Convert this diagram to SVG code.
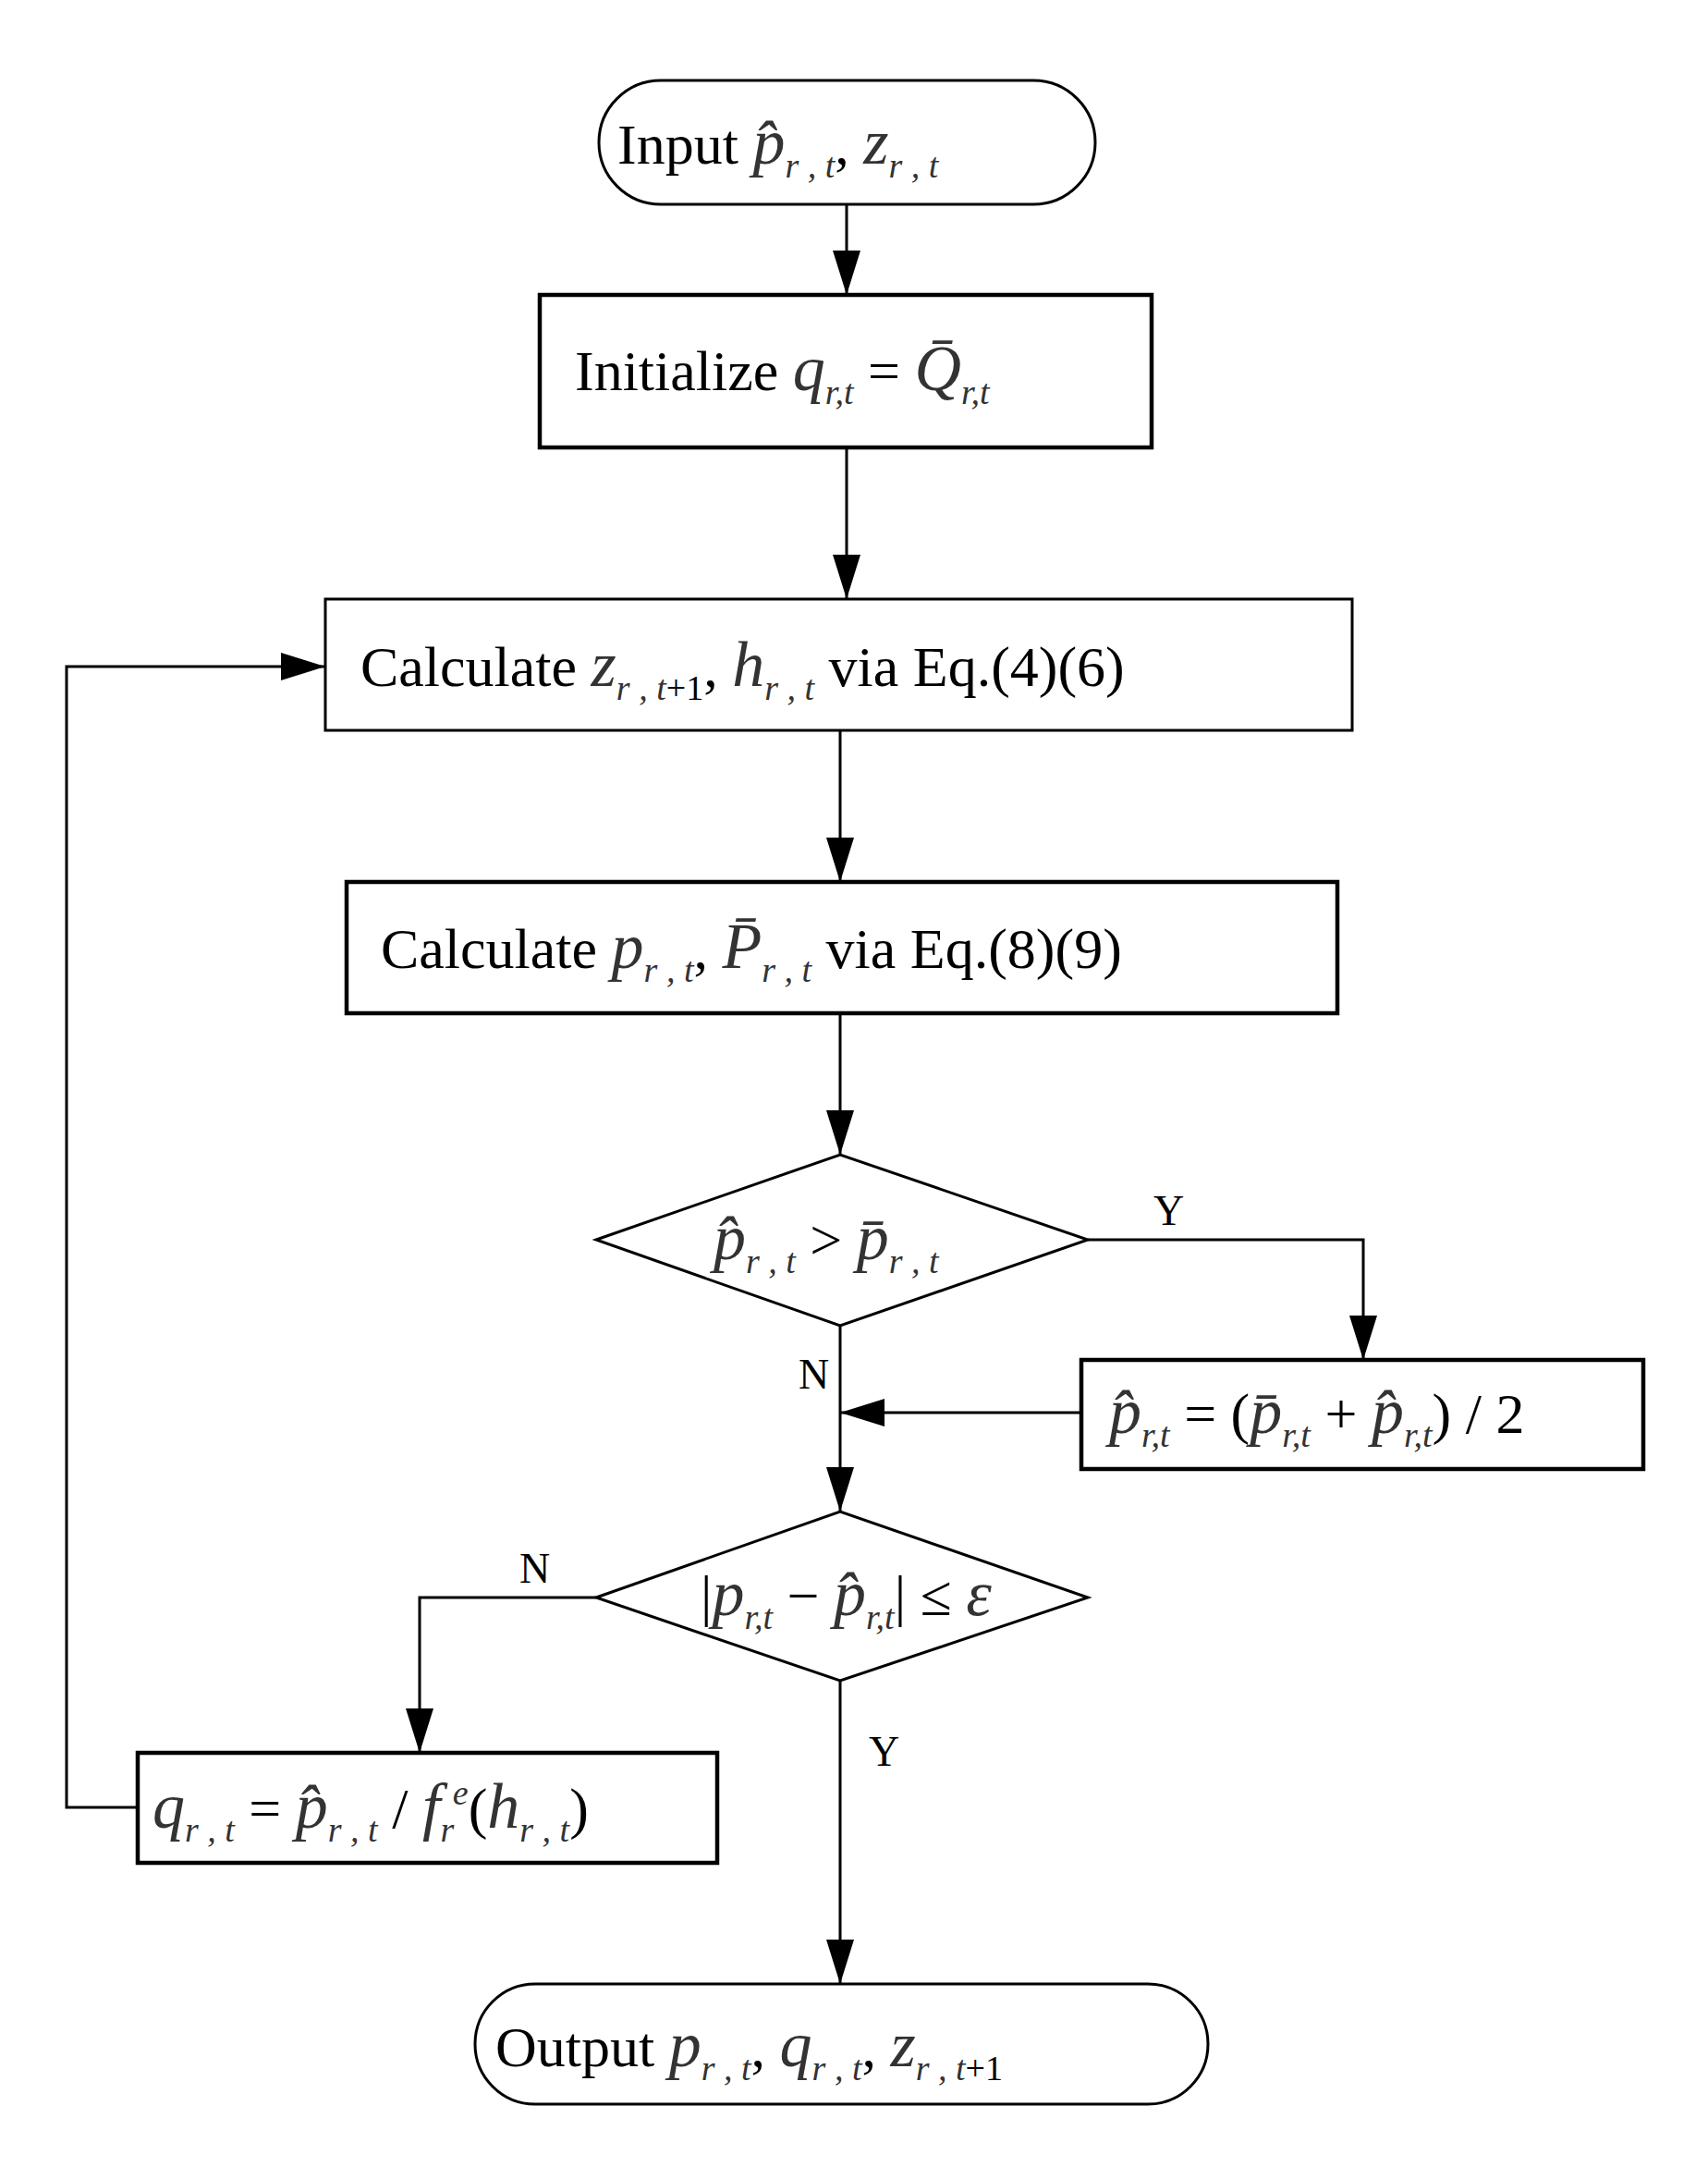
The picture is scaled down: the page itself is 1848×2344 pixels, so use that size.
<svg xmlns="http://www.w3.org/2000/svg" width="1848" height="2344" viewBox="0 0 1848 2344">
<style>
.n{fill:#fff;stroke:#000;stroke-width:3}
.k{fill:#fff;stroke:#000;stroke-width:4.5}
.c{fill:none;stroke:#000;stroke-width:3}
text{font-family:"Liberation Serif",serif;font-size:62px;fill:#000}
.m{font-style:italic;fill:#333;font-size:70px}
.s{font-size:38px}
.l{font-size:46px}
</style>
<defs>
<marker id="b" viewBox="0 0 48 30" markerWidth="48" markerHeight="30" refX="48" refY="15" orient="auto" markerUnits="userSpaceOnUse"><path d="M0,0L48,15L0,30z"/></marker></defs>
<g id="connectors">
<path class="c" d="M916,221V319" marker-end="url(#b)"/>
<path class="c" d="M916,484V648" marker-end="url(#b)"/>
<path class="c" d="M909,790V954" marker-end="url(#b)"/>
<path class="c" d="M909,1096V1249" marker-end="url(#b)"/>
<path class="c" d="M1177,1341H1475V1471" marker-end="url(#b)"/>
<path class="c" d="M1170,1528H909" marker-end="url(#b)"/>
<path class="c" d="M909,1434V1635" marker-end="url(#b)"/>
<path class="c" d="M645,1728H454V1896" marker-end="url(#b)"/>
<path class="c" d="M149,1955H72V721H352" marker-end="url(#b)"/>
<path class="c" d="M909,1818V2146" marker-end="url(#b)"/>
<text class="l" x="1248" y="1325">Y</text>
<text class="l" x="864" y="1502">N</text>
<text class="l" x="562" y="1712">N</text>
<text class="l" x="940" y="1910">Y</text>
</g>
<g id="input"><rect class="n" x="648" y="87" width="537" height="134" rx="67"/>
<text x="668" y="177">Input <tspan class="m">p̂</tspan><tspan class="m s" dy="15">r , t</tspan><tspan dy="-15">, </tspan><tspan class="m">z</tspan><tspan class="m s" dy="15">r , t</tspan></text></g>
<g id="init"><rect class="k" x="584" y="319" width="662" height="165"/>
<text x="622" y="422">Initialize <tspan class="m">q</tspan><tspan class="m s" dy="15">r,t</tspan><tspan dy="-15"> = </tspan><tspan class="m">Q̄</tspan><tspan class="m s" dy="15">r,t</tspan></text></g>
<g id="calc1"><rect class="n" x="352" y="648" width="1111" height="142"/>
<text x="390" y="742">Calculate <tspan class="m">z</tspan><tspan class="m s" dy="15">r , t</tspan><tspan class="s">+1</tspan><tspan dy="-15">, </tspan><tspan class="m">h</tspan><tspan class="m s" dy="15">r , t</tspan><tspan dy="-15">  via Eq.(4)(6)</tspan></text></g>
<g id="calc2"><rect class="k" x="375" y="954" width="1072" height="142"/>
<text x="412" y="1047">Calculate <tspan class="m">p</tspan><tspan class="m s" dy="15">r , t</tspan><tspan dy="-15">, </tspan><tspan class="m">P̄</tspan><tspan class="m s" dy="15">r , t</tspan><tspan dy="-15"> via Eq.(8)(9)</tspan></text></g>
<g id="dec1"><path class="n" d="M645,1341L909,1249L1177,1341L909,1434Z"/>
<text x="772" y="1362"><tspan class="m">p̂</tspan><tspan class="m s" dy="15">r , t</tspan><tspan dy="-15"> &gt; </tspan><tspan class="m">p̄</tspan><tspan class="m s" dy="15">r , t</tspan></text></g>
<g id="update"><rect class="k" x="1170" y="1471" width="608" height="118"/>
<text x="1200" y="1550"><tspan class="m">p̂</tspan><tspan class="m s" dy="15">r,t</tspan><tspan dy="-15"> = (</tspan><tspan class="m">p̄</tspan><tspan class="m s" dy="15">r,t</tspan><tspan dy="-15"> + </tspan><tspan class="m">p̂</tspan><tspan class="m s" dy="15">r,t</tspan><tspan dy="-15">) / 2</tspan></text></g>
<g id="dec2"><path class="n" d="M645,1728L909,1635L1177,1728L909,1818Z"/>
<text x="758" y="1747">|<tspan class="m">p</tspan><tspan class="m s" dy="15">r,t</tspan><tspan dy="-15"> − </tspan><tspan class="m">p̂</tspan><tspan class="m s" dy="15">r,t</tspan><tspan dy="-15">| ≤ </tspan><tspan class="m">ε</tspan></text></g>
<g id="qupd"><rect class="k" x="149" y="1896" width="627" height="119"/>
<text x="165" y="1977"><tspan class="m">q</tspan><tspan class="m s" dy="15">r , t</tspan><tspan dy="-15"> = </tspan><tspan class="m">p̂</tspan><tspan class="m s" dy="15">r , t</tspan><tspan dy="-15"> / </tspan><tspan class="m">f</tspan><tspan class="m s" dy="15">r</tspan><tspan class="m s" dy="-40">e</tspan><tspan dy="25">(</tspan><tspan class="m">h</tspan><tspan class="m s" dy="15">r , t</tspan><tspan dy="-15">)</tspan></text></g>
<g id="output"><rect class="n" x="514" y="2146" width="793" height="130" rx="65"/>
<text x="536" y="2235">Output  <tspan class="m">p</tspan><tspan class="m s" dy="15">r , t</tspan><tspan dy="-15">, </tspan><tspan class="m">q</tspan><tspan class="m s" dy="15">r , t</tspan><tspan dy="-15">, </tspan><tspan class="m">z</tspan><tspan class="m s" dy="15">r , t</tspan><tspan class="s">+1</tspan></text></g>
</svg>
